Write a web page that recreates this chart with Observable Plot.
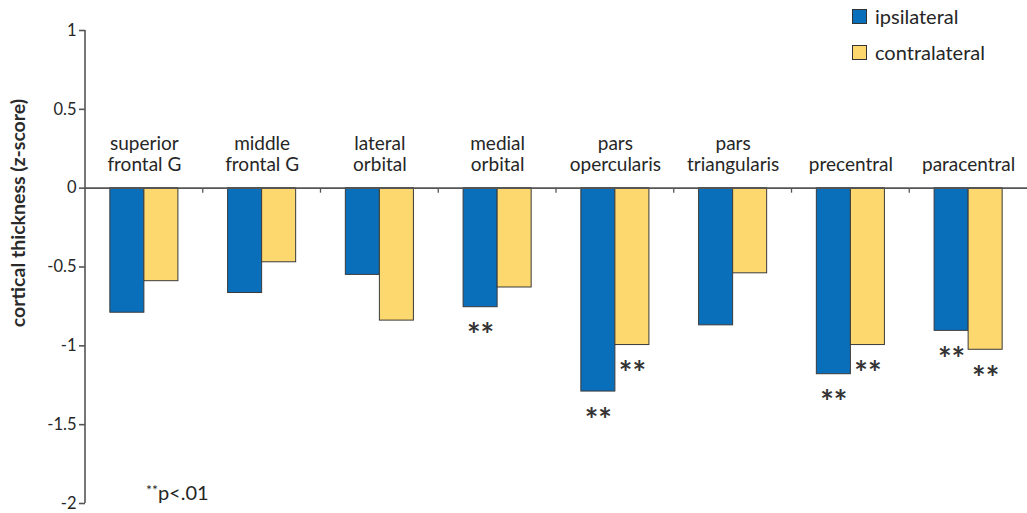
<!DOCTYPE html>
<html><head><meta charset="utf-8">
<script src="https://cdn.jsdelivr.net/npm/d3@7"></script>
<script src="https://cdn.jsdelivr.net/npm/@observablehq/plot@0.6"></script>
<style>
body{margin:0;background:#fff;font-family:Lato,"Open Sans",sans-serif;color:#262626;}
#wrap{position:relative;width:1027px;height:513px;overflow:hidden;}
#chart svg{display:block;}
.legend{position:absolute;left:852px;font-size:20px;display:flex;align-items:center;line-height:1;}
.legend span.sw{display:inline-block;width:13px;height:13px;border:1px solid #333;margin-right:8px;}
#ylabel{position:absolute;left:17px;top:213px;transform:translate(-50%,-50%) rotate(-90deg);white-space:nowrap;font-weight:bold;font-size:19.5px;color:#2a2a2a;}
#note{position:absolute;left:146px;top:480px;font-size:20px;}
#note sup{font-size:14px;vertical-align:5px;}
</style></head><body>
<div id="wrap"><div id="chart"></div>
<div class="legend" style="top:6px"><span class="sw" style="background:#0A6FBB"></span>ipsilateral</div>
<div class="legend" style="top:42px"><span class="sw" style="background:#FDD86E"></span>contralateral</div>
<div id="ylabel">cortical thickness (z-score)</div>
<div id="note"><sup>**</sup>p&lt;.01</div>
</div>
<script>
const regions = ["superior\nfrontal G","middle\nfrontal G","lateral\norbital","medial\norbital","pars\nopercularis","pars\ntriangularis","precentral","paracentral"];
const sides = ["ipsilateral","contralateral"];
const ipsilateral = [-0.79,-0.665,-0.55,-0.755,-1.29,-0.87,-1.18,-0.905];
const contralateral = [-0.59,-0.47,-0.84,-0.63,-0.995,-0.54,-0.995,-1.025];
const sigIpsilateral = [false,false,false,true,true,false,true,true];
const sigContralateral = [false,false,false,false,true,false,true,true];
const yTicks = [1,0.5,0,-0.5,-1,-1.5,-2];
const colors = ["#0A6FBB","#FDD86E"];

const data = [];
regions.forEach((r,i)=>{
  data.push({region:r, side:"ipsilateral", value:ipsilateral[i], sig:sigIpsilateral[i]});
  data.push({region:r, side:"contralateral", value:contralateral[i], sig:sigContralateral[i]});
});

const plot = Plot.plot({
  width:1027, height:513,
  marginTop:30, marginBottom:10, marginLeft:85, marginRight:0,
  style:{fontFamily:"Lato, 'Open Sans', sans-serif", color:"#262626", background:"#fff"},
  fx:{domain:regions, padding:0, round:false, axis:null},
  x:{domain:sides, paddingInner:0, paddingOuter:0.73, round:false, axis:null},
  y:{domain:[-2,1]},
  color:{domain:sides, range:colors},
  marks:[
    Plot.barY(data,{fx:"region", x:"side", y:"value", fill:"side", stroke:"#3a3a3a", strokeWidth:1}),
    Plot.ruleY([0],{stroke:"#555", strokeWidth:1.6}),
    Plot.axisY({ticks:yTicks, tickFormat:d=>String(d), tickSize:6, tickPadding:3, label:null, fontSize:16.5, stroke:"#555", strokeWidth:1.6}),
    Plot.text(regions,{fx:d=>d, text:d=>d, y:0, dy:-17, lineAnchor:"bottom", fontSize:19, lineHeight:1.1, fill:"#262626"}),
    Plot.text(data.filter(d=>d.sig),{fx:"region", x:"side", y:"value", text:()=>"**", dy:30, fontSize:32, fill:"#333", fontWeight:"bold"})
  ]
});
document.getElementById("chart").appendChild(plot);

// y axis line and small ticks on the zero line between categories
const fx = plot.scale("fx"), ys = plot.scale("y");
const y0 = ys.apply(0);
const svg = d3.select(plot);
const xLeft = fx.range[0];
svg.append("line").attr("x1",xLeft).attr("x2",xLeft)
  .attr("y1",ys.apply(yTicks[0])).attr("y2",ys.apply(yTicks[yTicks.length-1]))
  .attr("stroke","#555").attr("stroke-width",1.6);
regions.slice(1).forEach(r=>{
  const xp = fx.apply(r);
  svg.append("line").attr("x1",xp).attr("x2",xp).attr("y1",y0).attr("y2",y0+5)
    .attr("stroke","#555").attr("stroke-width",1.3);
});
</script>
</body></html>
